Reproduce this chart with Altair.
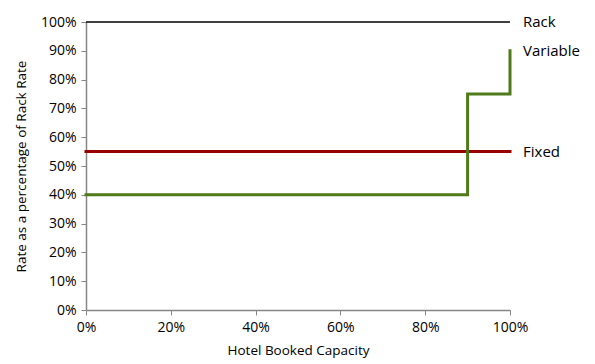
import altair as alt
import pandas as pd

# Data
rack_x = [0.0, 1.0]
rack_y = [1.0, 1.0]
fixed_x = [0.0, 1.0]
fixed_y = [0.55, 0.55]
variable_x = [0.0, 0.9, 0.9, 1.0, 1.0]
variable_y = [0.40, 0.40, 0.75, 0.75, 0.90]

series_names = ["Rack", "Fixed", "Variable"]
series_colors = ["#000000", "#990000", "#4f7a1a"]
label_y = [1.0, 0.55, 0.90]

x_ticks = [0, 0.2, 0.4, 0.6, 0.8, 1.0]
y_ticks = [0, 0.1, 0.2, 0.3, 0.4, 0.5, 0.6, 0.7, 0.8, 0.9, 1.0]

rows = []
for name, xs, ys in [("Rack", rack_x, rack_y), ("Fixed", fixed_x, fixed_y), ("Variable", variable_x, variable_y)]:
    for i, (x, y) in enumerate(zip(xs, ys)):
        rows.append({"series": name, "x": x, "y": y, "order": i})
df = pd.DataFrame(rows)
labels = pd.DataFrame({"series": series_names, "x": [1.0] * 3, "y": label_y})

FONT = "Open Sans"
color = alt.Color("series:N", scale=alt.Scale(domain=series_names, range=series_colors), legend=None)

xs = alt.Scale(domain=[0, 1], nice=False)
ys = alt.Scale(domain=[0, 1], nice=False)

base_x = alt.X("x:Q", scale=xs, title="Hotel Booked Capacity",
               axis=alt.Axis(format=".0%", values=x_ticks, grid=False, labelOverlap=False))
base_y = alt.Y("y:Q", scale=ys, title="Rate as a percentage of Rack Rate",
               axis=alt.Axis(format=".0%", values=y_ticks, grid=False, labelOverlap=False))

rack = alt.Chart(df[df.series == "Rack"]).mark_line(strokeWidth=1.5).encode(
    x=base_x, y=base_y, order="order:Q", color=color)
thick = alt.Chart(df[df.series != "Rack"]).mark_line(strokeWidth=3, strokeCap="square").encode(
    x=base_x, y=base_y, order="order:Q", color=color, detail="series:N")
text = alt.Chart(labels).mark_text(align="left", baseline="middle", dx=13, fontSize=15, font=FONT, color="#000000").encode(
    x=base_x, y=base_y, text="series:N")

chart = alt.layer(rack, thick, text).properties(
    width=424, height=288,
    autosize=alt.AutoSizeParams(type="none"),
    padding={"left": 86, "top": 22, "right": 85, "bottom": 54},
).configure_view(stroke=None).configure_axis(
    domainColor="#868686", tickColor="#868686", domainWidth=1.5, tickWidth=1,
    tickSize=5, labelFont=FONT, titleFont=FONT, labelFontSize=14, titleFontSize=13.5,
    labelColor="#000000", titleColor="#000000", titleFontWeight="normal", labelPadding=5,
    labelFlush=False,
).configure_axisY(titlePadding=12).configure_axisX(titlePadding=9)

chart.save("out.html", embed_options={"renderer": "svg", "actions": False})
